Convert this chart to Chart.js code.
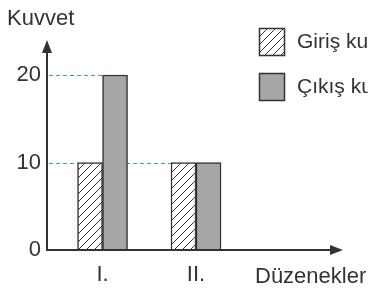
<!DOCTYPE html>
<html>
<head>
<meta charset="utf-8">
<script src="https://cdn.jsdelivr.net/npm/chart.js@4/dist/chart.umd.min.js"></script>
<style>
  body { margin: 0; background: #fff; }
</style>
</head>
<body>
<canvas id="chart" width="368" height="288"></canvas>
<script>
// data
const categories = ["I.", "II."];
const catPos     = [1, 2];
const girisVals  = [10, 10];
const cikisVals  = [20, 10];
const yTicks     = [0, 10, 20];
const refLines   = [10, 20];

const FONT = "'Liberation Sans', Arial, sans-serif";
const INK  = "#333";

function hatchPattern() {
  const c = document.createElement("canvas");
  c.width = 8; c.height = 8;
  const g = c.getContext("2d");
  g.fillStyle = "#fff";
  g.fillRect(0, 0, 8, 8);
  g.strokeStyle = INK;
  g.lineWidth = 1;
  g.beginPath();
  g.moveTo(0, 8); g.lineTo(8, 0);
  g.moveTo(-1, 1); g.lineTo(1, -1);
  g.moveTo(7, 9); g.lineTo(9, 7);
  g.stroke();
  return g.createPattern(c, "repeat");
}
const hatch = hatchPattern();

// dashed guides behind the bars
const guides = {
  id: "guides",
  beforeDatasetsDraw(chart) {
    const { ctx, chartArea } = chart;
    const y = chart.scales.y;
    ctx.save();
    ctx.strokeStyle = "#3fa596";
    ctx.lineWidth = 1;
    ctx.setLineDash([4, 3]);
    refLines.forEach(v => {
      let end = chartArea.left;
      chart.data.datasets.forEach((ds, di) => {
        chart.getDatasetMeta(di).data.forEach((bar, i) => {
          if (ds.data[i].y === v) end = Math.max(end, bar.x - bar.width / 2);
        });
      });
      const py = Math.round(y.getPixelForValue(v)) + 0.5;
      ctx.beginPath();
      ctx.moveTo(chartArea.left + 2, py);
      ctx.lineTo(end, py);
      ctx.stroke();
    });
    ctx.restore();
  }
};

// axes with arrows, titles and legend
const decor = {
  id: "decor",
  afterDraw(chart) {
    const { ctx, chartArea: a } = chart;
    ctx.save();
    ctx.strokeStyle = INK;
    ctx.fillStyle = INK;
    ctx.lineWidth = 2;
    ctx.beginPath();
    ctx.moveTo(a.left, a.top + 8);
    ctx.lineTo(a.left, a.bottom);
    ctx.lineTo(a.right - 8, a.bottom);
    ctx.stroke();
    // arrowheads
    ctx.beginPath();
    ctx.moveTo(a.left, a.top);
    ctx.lineTo(a.left - 5, a.top + 13);
    ctx.lineTo(a.left + 5, a.top + 13);
    ctx.closePath();
    ctx.fill();
    ctx.beginPath();
    ctx.moveTo(a.right, a.bottom);
    ctx.lineTo(a.right - 13, a.bottom - 5);
    ctx.lineTo(a.right - 13, a.bottom + 5);
    ctx.closePath();
    ctx.fill();

    ctx.font = "22px " + FONT;
    ctx.textBaseline = "alphabetic";
    ctx.textAlign = "left";
    ctx.fillText("Kuvvet", 7, 25);
    ctx.fillText("Düzenekler", 255, 283);

    // legend
    ctx.font = "21px " + FONT;
    const boxes = [28, 73];
    chart.data.datasets.forEach((ds, i) => {
      ctx.fillStyle = ds.backgroundColor;
      ctx.fillRect(259.5, boxes[i] + 0.5, 25, 27);
      ctx.lineWidth = 1.5;
      ctx.strokeStyle = INK;
      ctx.strokeRect(259.5, boxes[i] + 0.5, 25, 27);
      ctx.fillStyle = INK;
      ctx.fillText(ds.label, 297, boxes[i] + 20);
    });
    ctx.restore();
  }
};

new Chart(document.getElementById("chart"), {
  type: "bar",
  data: {
    datasets: [
      {
        label: "Giriş kuvveti",
        data: catPos.map((x, i) => ({ x, y: girisVals[i] })),
        backgroundColor: hatch,
        borderColor: INK,
        borderWidth: 1.5,
        barThickness: 25
      },
      {
        label: "Çıkış kuvveti",
        data: catPos.map((x, i) => ({ x, y: cikisVals[i] })),
        backgroundColor: "#a6a6a6",
        borderColor: INK,
        borderWidth: 1.5,
        barThickness: 25
      }
    ]
  },
  options: {
    responsive: false,
    animation: false,
    layout: { padding: { top: 40, right: 25, left: 0, bottom: 0 } },
    plugins: { legend: { display: false }, tooltip: { enabled: false } },
    scales: {
      x: {
        type: "linear",
        offset: false,
        min: 0.406,
        max: 3.572,
        grid: { display: false },
        border: { display: false },
        afterBuildTicks: s => { s.ticks = catPos.map(v => ({ value: v })); },
        afterFit: s => { s.height = 38; },
        ticks: {
          padding: 4,
          color: INK,
          font: { family: FONT, size: 22 },
          callback: v => categories[catPos.indexOf(v)] ?? ""
        }
      },
      y: {
        min: 0,
        max: 24,
        grid: { display: false, drawTicks: false },
        border: { display: false },
        afterBuildTicks: s => { s.ticks = yTicks.map(v => ({ value: v })); },
        afterFit: s => { s.width = 47; },
        ticks: {
          padding: 6,
          color: INK,
          font: { family: FONT, size: 22 }
        }
      }
    }
  },
  plugins: [guides, decor]
});
</script>
</body>
</html>
